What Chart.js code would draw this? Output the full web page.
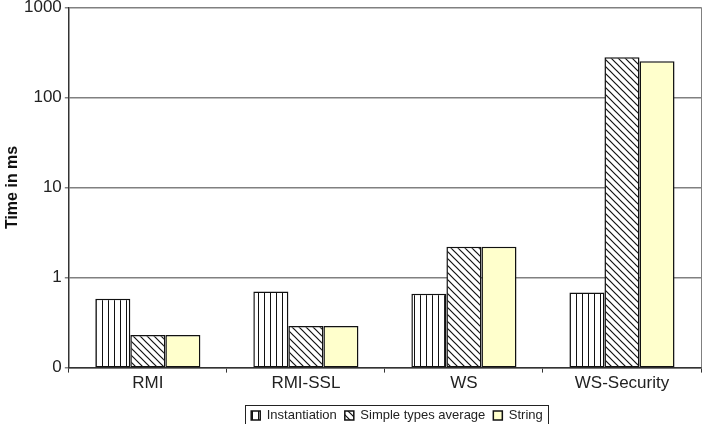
<!DOCTYPE html>
<html>
<head>
<meta charset="utf-8">
<script src="https://cdn.jsdelivr.net/npm/chart.js@4/dist/chart.umd.min.js"></script>
<style>
    html, body { margin: 0; padding: 0; background: #fff; }
    #caixa { width: 705px; height: 424px; }
</style>
</head>
<body>
<div id="caixa"><canvas id="graficoTempo"></canvas></div>
<script>
// dados (escala log)
const categorias = ['RMI', 'RMI-SSL', 'WS', 'WS-Security']
const instanciacao = [0.58, 0.70, 0.66, 0.68]
const tiposSimples = [0.23, 0.29, 2.2, 278]
const textoString = [0.23, 0.29, 2.2, 251]
const ticksY = [0.1, 1, 10, 100, 1000]
const rotulosY = ['0', '1', '10', '100', '1000']

function padraoVertical(){
    var c = document.createElement('canvas')
    c.width = 6; c.height = 6
    var ctx = c.getContext('2d')
    ctx.fillStyle = '#fff'
    ctx.fillRect(0, 0, 6, 6)
    ctx.fillStyle = '#111'
    ctx.fillRect(0, 0, 1, 6)
    return ctx.createPattern(c, 'repeat')
}

function padraoDiagonal(){
    var s = 7
    var c = document.createElement('canvas')
    c.width = s; c.height = s
    var ctx = c.getContext('2d')
    ctx.fillStyle = '#fff'
    ctx.fillRect(0, 0, s, s)
    ctx.strokeStyle = '#111'
    ctx.lineWidth = 1.2
    ctx.beginPath()
    ctx.moveTo(0, 0); ctx.lineTo(s, s)
    ctx.moveTo(-1, s - 1); ctx.lineTo(1, s + 1)
    ctx.moveTo(s - 1, -1); ctx.lineTo(s + 1, 1)
    ctx.stroke()
    return ctx.createPattern(c, 'repeat')
}

var deslocLegenda = 44

const molduraPlugin = {
    id: 'moldura',
    afterLayout(chart){
        // legenda fica um pouco a direita no original
        var leg = chart.legend
        leg.left += deslocLegenda
        leg.right += deslocLegenda
    },
    afterDraw(chart){
        var ctx = chart.ctx
        var area = chart.chartArea
        ctx.save()
        ctx.strokeStyle = '#808080'
        ctx.lineWidth = 1
        ctx.beginPath()
        ctx.moveTo(area.right + 0.5, area.top)
        ctx.lineTo(area.right + 0.5, area.bottom)
        ctx.stroke()
        // caixa da legenda
        var leg = chart.legend
        var larg = leg.lineWidths ? leg.lineWidths[0] : 0
        if(larg){
            var meio = (leg.left + leg.right) / 2
            var esq = meio - larg / 2 - 2
            var dir = meio + larg / 2 + 1
            var topo = leg.top + 4
            var base = leg.bottom + 10
            ctx.strokeStyle = '#222'
            ctx.lineWidth = 1
            ctx.strokeRect(Math.round(esq) + 0.5, Math.round(topo) + 0.5, Math.round(dir - esq), Math.round(base - topo))
        }
        ctx.restore()
    }
}

function plotarGrafico(){
    var grafico = document.getElementById('graficoTempo')

    var dataTempo = {
        labels: categorias,
        datasets: [{
            label: 'Instantiation',
            data: instanciacao,
            backgroundColor: padraoVertical(),
            borderColor: '#111',
            borderWidth: 1.5,
            borderSkipped: false
        }, {
            label: 'Simple types average',
            data: tiposSimples,
            backgroundColor: padraoDiagonal(),
            borderColor: '#111',
            borderWidth: 1.5,
            borderSkipped: false
        }, {
            label: 'String',
            data: textoString,
            backgroundColor: '#FFFFCC',
            borderColor: '#111',
            borderWidth: 1.5,
            borderSkipped: false
        }]
    }

    const config = {
        type: 'bar',
        data: dataTempo,
        options: {
            responsive: true,
            maintainAspectRatio: false,
            animation: false,
            layout: {
                padding: { top: 0, right: 4, left: 5, bottom: -8 }
            },
            datasets: {
                bar: { categoryPercentage: 0.665, barPercentage: 1 }
            },
            plugins: {
                tooltip: { enabled: false },
                legend: {
                    position: 'bottom',
                    labels: {
                        boxWidth: 9,
                        boxHeight: 9,
                        padding: 8,
                        color: '#222',
                        font: { family: 'Liberation Sans', size: 13 }
                    }
                }
            },
            scales: {
                x: {
                    grid: {
                        drawOnChartArea: false,
                        offset: true,
                        tickLength: 5,
                        color: '#333'
                    },
                    border: { color: '#333', width: 1.5 },
                    afterFit: function(eixo){
                        eixo.height += 6
                    },
                    ticks: {
                        color: '#222',
                        padding: 1,
                        font: { family: 'Liberation Sans', size: 17 }
                    }
                },
                y: {
                    type: 'logarithmic',
                    min: 0.1,
                    max: 1000,
                    afterBuildTicks: function(eixo){
                        eixo.ticks = ticksY.map(v => ({ value: v }))
                    },
                    grid: {
                        color: '#808080',
                        lineWidth: 1.5,
                        tickLength: 4
                    },
                    border: { color: '#333', width: 1.5 },
                    ticks: {
                        color: '#222',
                        padding: 3,
                        font: { family: 'Liberation Sans', size: 17, lineHeight: 0.5 },
                        callback: function(valor, indice){
                            return rotulosY[indice]
                        }
                    },
                    title: {
                        display: true,
                        text: 'Time in ms',
                        color: '#111',
                        padding: { top: 0, bottom: 0 },
                        font: { family: 'Liberation Sans', size: 16, weight: 'bold', lineHeight: 1 }
                    }
                }
            }
        },
        plugins: [molduraPlugin]
    }

    var myChart = new Chart(grafico, config)
}

plotarGrafico()
</script>
</body>
</html>
